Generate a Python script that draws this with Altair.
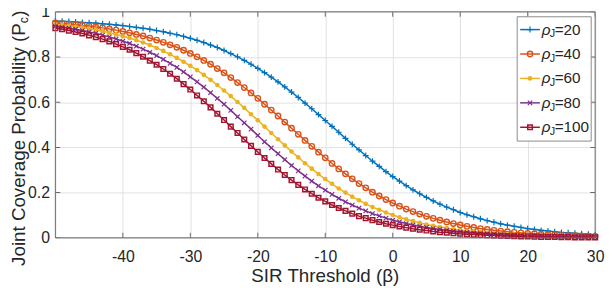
import altair as alt
import pandas as pd

# ---------------- data ----------------
beta = list(range(-50, 31))            # SIR threshold (dB)
rho = [20, 40, 60, 80, 100]            # jammer densities
labels_val = ["20", "40", "60", "80", "100"]

p20 = [.959, .958, .957, .955, .953, .952, .950, .947, .945, .942,
       .939, .935, .931, .927, .923, .917, .912, .905, .899, .891,
       .883, .874, .864, .853, .842, .829, .815, .801, .785, .768,
       .750, .731, .711, .690, .668, .645, .621, .596, .571, .545,
       .519, .493, .467, .440, .414, .389, .364, .339, .316, .293,
       .271, .251, .231, .212, .195, .179, .163, .149, .136, .124,
       .112, .102, .093, .084, .076, .069, .062, .056, .051, .046,
       .041, .037, .033, .030, .027, .024, .022, .020, .018, .016,
       .014]
p40 = [.951, .948, .946, .943, .940, .937, .933, .929, .924, .919,
       .913, .907, .900, .893, .884, .875, .865, .854, .843, .830,
       .816, .801, .785, .768, .749, .730, .709, .687, .665, .641,
       .617, .591, .565, .539, .512, .485, .458, .431, .405, .379,
       .354, .329, .305, .283, .261, .240, .221, .202, .185, .169,
       .154, .140, .127, .116, .105, .095, .086, .078, .070, .063,
       .057, .051, .046, .041, .037, .033, .030, .027, .024, .022,
       .020, .018, .016, .014, .013, .011, .010, .009, .008, .007,
       .006]
p60 = [.944, .941, .938, .934, .930, .925, .920, .914, .907, .900,
       .892, .884, .874, .864, .853, .840, .827, .812, .796, .779,
       .761, .742, .721, .699, .676, .652, .627, .601, .575, .547,
       .520, .492, .464, .436, .409, .382, .356, .330, .306, .282,
       .260, .239, .218, .200, .182, .166, .150, .136, .124, .112,
       .101, .091, .082, .074, .066, .059, .053, .048, .043, .038,
       .034, .031, .028, .025, .022, .020, .018, .016, .014, .013,
       .011, .010, .009, .008, .007, .006, .006, .005, .004, .004,
       .004]
p80 = [.936, .932, .928, .923, .917, .911, .905, .897, .889, .880,
       .870, .860, .848, .835, .821, .806, .790, .772, .754, .734,
       .712, .690, .667, .642, .617, .591, .564, .536, .509, .481,
       .453, .425, .398, .372, .346, .320, .296, .273, .251, .230,
       .211, .192, .175, .159, .145, .131, .119, .107, .097, .087,
       .078, .071, .063, .057, .051, .046, .041, .037, .033, .029,
       .026, .024, .021, .019, .017, .015, .013, .012, .011, .010,
       .008, .008, .007, .006, .005, .005, .004, .004, .003, .003,
       .003]
p100 = [.928, .923, .917, .911, .904, .896, .888, .879, .869, .857,
        .845, .832, .817, .801, .784, .766, .747, .726, .704, .680,
        .656, .630, .604, .577, .549, .521, .492, .464, .435, .407,
        .380, .353, .327, .302, .278, .255, .234, .214, .195, .177,
        .161, .145, .132, .119, .107, .096, .087, .078, .070, .062,
        .056, .050, .045, .040, .036, .032, .028, .025, .023, .020,
        .018, .016, .014, .013, .011, .010, .009, .008, .007, .006,
        .006, .005, .004, .004, .004, .003, .003, .002, .002, .002,
        .002]

x_ticks = [-40, -30, -20, -10, 0, 10, 20, 30]
y_ticks = [0, 0.2, 0.4, 0.6, 0.8, 1]

series = [p20, p40, p60, p80, p100]
df = pd.DataFrame({
    "beta": beta * len(rho),
    "pc": [v for s in series for v in s],
    "rho": [r for r in rho for _ in beta],
})

# ---------------- style ----------------
W, H = 547, 229
FONT = "Liberation Sans"
TXT = "#262626"
FRAME = "#6b6b6b"
GRID = "#e2e2e2"
TICK_FS = 16
TITLE_FS = 19
LEG_FS = 15.5

colors = ["#0072BD", "#D95319", "#EDB120", "#7E2F8E", "#A2142F"]
markers = [
    dict(shape="M-1,0L1,0M0,-1L0,1", filled=False, size=36, strokeWidth=1.2),
    dict(shape="circle", filled=False, size=30, strokeWidth=1.4),
    dict(shape="circle", filled=True, size=22, strokeWidth=0),
    dict(shape="M-1,-1L1,1M-1,1L1,-1", filled=False, size=20, strokeWidth=1.2),
    dict(shape="square", filled=False, size=22, strokeWidth=1.5),
]

xs = alt.Scale(domain=[-50, 30], nice=False, zero=False)
ys = alt.Scale(domain=[0, 1], nice=False, zero=False)

x_axis = alt.Axis(values=x_ticks, grid=True, gridColor=GRID, gridWidth=1,
                  ticks=False, domain=False, labelFont=FONT,
                  labelFontSize=TICK_FS, labelColor=TXT, labelPadding=11,
                  labelOverlap=False, labelFlush=False, title=None,
                  labelExpr="'' + datum.value")
y_axis = alt.Axis(values=y_ticks, grid=True, gridColor=GRID, gridWidth=1,
                  ticks=False, domain=False, labelFont=FONT,
                  labelFontSize=TICK_FS, labelColor=TXT, labelPadding=6,
                  labelOverlap=False, labelFlush=False, title=None,
                  labelExpr="'' + datum.value")

XE = alt.X("beta:Q", scale=xs, axis=x_axis)
YE = alt.Y("pc:Q", scale=ys, axis=y_axis)

base = alt.Chart(df)
layers = []
for i, (r, c, m) in enumerate(zip(rho, colors, markers)):
    sub = base.transform_filter(alt.datum.rho == r)
    layers.append(sub.mark_line(color=c, strokeWidth=1.5).encode(x=XE, y=YE))
    layers.append(sub.mark_point(color=c, opacity=1, **m).encode(x=XE, y=YE))

# inward ticks on all four sides
xt = pd.DataFrame({"beta": x_ticks})
yt = pd.DataFrame({"pc": y_ticks})
tick_kw = dict(size=10, thickness=1, color=FRAME, clip=True, opacity=1)
layers.append(alt.Chart(xt).mark_tick(orient="vertical", **tick_kw).encode(
    x=XE, y=alt.value(H)))
layers.append(alt.Chart(xt).mark_tick(orient="vertical", **tick_kw).encode(
    x=XE, y=alt.value(0)))
layers.append(alt.Chart(yt).mark_tick(orient="horizontal", **tick_kw).encode(
    y=YE, x=alt.value(0)))
layers.append(alt.Chart(yt).mark_tick(orient="horizontal", **tick_kw).encode(
    y=YE, x=alt.value(W)))

dummy = pd.DataFrame({"d": [0]})
# frame
layers.append(alt.Chart(dummy).mark_rect(
    fillOpacity=0, stroke=FRAME, strokeWidth=1).encode(
    x=alt.value(0), x2=alt.value(W), y=alt.value(0), y2=alt.value(H)))

# legend
layers.append(alt.Chart(dummy).mark_rect(
    fill="white", stroke="#8a8a8a", strokeWidth=1).encode(
    x=alt.value(468), x2=alt.value(543), y=alt.value(5), y2=alt.value(131)))
for i, (lab, c, m) in enumerate(zip(labels_val, colors, markers)):
    ry = 18 + 24.75 * i
    layers.append(alt.Chart(dummy).mark_rule(color=c, strokeWidth=1.5).encode(
        x=alt.value(471), x2=alt.value(491), y=alt.value(ry)))
    layers.append(alt.Chart(dummy).mark_point(color=c, opacity=1, **m).encode(
        x=alt.value(481), y=alt.value(ry)))
    layers.append(alt.Chart(dummy).mark_text(
        text="ρ", font=FONT, fontSize=LEG_FS, fontStyle="italic",
        align="left", baseline="middle", color=TXT).encode(
        x=alt.value(493), y=alt.value(ry)))
    layers.append(alt.Chart(dummy).mark_text(
        text="J", font=FONT, fontSize=11, align="left", baseline="middle",
        color=TXT).encode(x=alt.value(501), y=alt.value(ry + 5)))
    layers.append(alt.Chart(dummy).mark_text(
        text="=" + lab, font=FONT, fontSize=LEG_FS, align="left",
        baseline="middle", color=TXT).encode(
        x=alt.value(506), y=alt.value(ry)))

# axis titles (with subscript)
YT_X = -37
yA = 11.6
layers.append(alt.Chart(dummy).mark_text(
    text="Joint Coverage Probability (P", font=FONT, fontSize=TITLE_FS,
    angle=270, align="right", baseline="middle", color=TXT).encode(
    x=alt.value(YT_X), y=alt.value(yA)))
layers.append(alt.Chart(dummy).mark_text(
    text="c", font=FONT, fontSize=12.5, angle=270, align="left",
    baseline="middle", color=TXT).encode(
    x=alt.value(YT_X + 5.5), y=alt.value(yA)))
layers.append(alt.Chart(dummy).mark_text(
    text=")", font=FONT, fontSize=TITLE_FS, angle=270, align="left",
    baseline="middle", color=TXT).encode(
    x=alt.value(YT_X), y=alt.value(yA - 6.5)))
layers.append(alt.Chart(dummy).mark_text(
    text="SIR Threshold (β)", font=FONT, fontSize=TITLE_FS, align="center",
    baseline="middle", color=TXT).encode(
    x=alt.value(W / 2), y=alt.value(H + 39)))

chart = alt.layer(*layers).properties(
    width=W, height=H,
    autosize=alt.AutoSizeParams(type="none"),
    padding={"left": 48, "top": 2, "right": 11, "bottom": 49},
).configure_view(strokeWidth=0).configure(background="white")

chart.save("out.html", embed_options={"renderer": "svg", "actions": False})
